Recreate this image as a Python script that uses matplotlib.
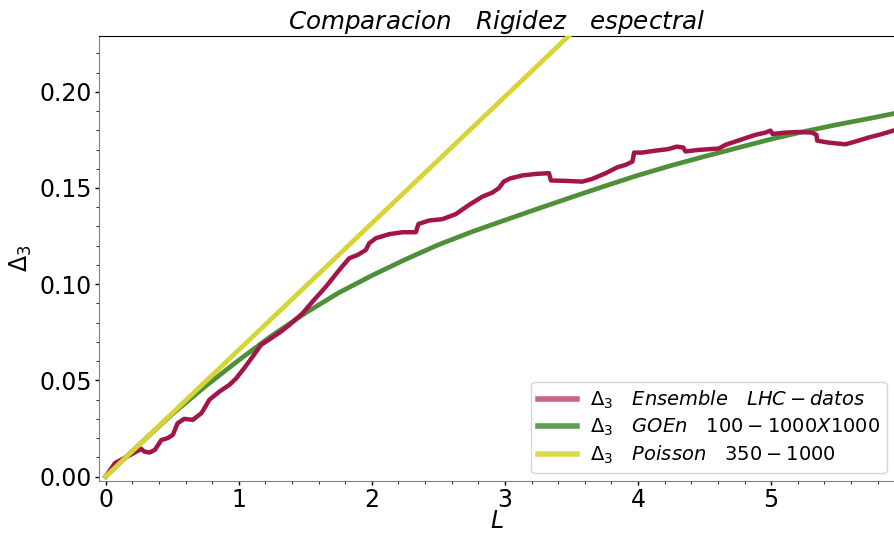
import matplotlib
matplotlib.use("Agg")
import matplotlib.pyplot as plt
from matplotlib.lines import Line2D
from matplotlib.ticker import MultipleLocator, FormatStrFormatter

# Ensemble LHC data
L_ens = [0.0, 0.07, 0.14, 0.205, 0.267, 0.29, 0.33, 0.37, 0.418, 0.467, 0.505, 0.54,
         0.59, 0.655, 0.72, 0.78, 0.855, 0.93, 0.98, 1.04, 1.105, 1.168, 1.243, 1.318,
         1.38, 1.48, 1.555, 1.656, 1.755, 1.83, 1.893, 1.955, 1.98, 2.03, 2.13, 2.23,
         2.33, 2.35, 2.43, 2.53, 2.63, 2.73, 2.83, 2.905, 2.955, 2.99, 3.04, 3.13, 3.23,
         3.33, 3.345, 3.455, 3.58, 3.655, 3.757, 3.845, 3.906, 3.957, 3.97, 4.03, 4.13,
         4.226, 4.29, 4.34, 4.355, 4.455, 4.606, 4.656, 4.78, 4.88, 4.956, 4.994, 5.01,
         5.107, 5.206, 5.306, 5.34, 5.345, 5.43, 5.557, 5.63, 5.73, 5.83, 5.95]
D_ens = [0.0, 0.007, 0.0096, 0.012, 0.0144, 0.013, 0.0125, 0.0139, 0.019, 0.020, 0.0217,
         0.0277, 0.030, 0.0295, 0.033, 0.040, 0.0442, 0.0477, 0.051, 0.0563, 0.0624,
         0.0685, 0.0719, 0.0754, 0.0788, 0.0849, 0.091, 0.0988, 0.1074, 0.1135, 0.1152,
         0.1178, 0.1213, 0.1239, 0.126, 0.127, 0.127, 0.1313, 0.1331, 0.1338, 0.1364,
         0.1412, 0.1455, 0.1476, 0.150, 0.1533, 0.155, 0.1565, 0.1573, 0.1577, 0.1539,
         0.1537, 0.1533, 0.1547, 0.1577, 0.1608, 0.162, 0.1637, 0.1684, 0.1684, 0.1694,
         0.1702, 0.1715, 0.171, 0.169, 0.1698, 0.1705, 0.1724, 0.1753, 0.1776, 0.1788,
         0.1798, 0.1781, 0.1788, 0.1791, 0.1788, 0.1776, 0.1746, 0.1736, 0.1727, 0.1741,
         0.1762, 0.1780, 0.1805]

# GOE
L_goe = [0.0, 0.25, 0.5, 0.75, 1.0, 1.25, 1.5, 1.75, 2.0, 2.25, 2.5, 2.75, 3.0, 3.25,
         3.5, 3.75, 4.0, 4.25, 4.5, 4.75, 5.0, 5.25, 5.5, 5.75, 5.95]
D_goe = [0.0, 0.0165, 0.0325, 0.0470, 0.0605, 0.0733, 0.0850, 0.0955, 0.1045, 0.1128,
         0.1205, 0.1272, 0.1333, 0.1393, 0.1452, 0.1510, 0.1566, 0.1617, 0.1664, 0.1709,
         0.1754, 0.1794, 0.1830, 0.1863, 0.1891]

# Poisson
L_poi = [0.0, 3.6]
D_poi = [0.0, 0.237]

labels = [r'$\Delta_3 \quad Ensemble \quad LHC-datos$',
          r'$\Delta_3 \quad GOEn \quad 100-1000X1000$',
          r'$\Delta_3 \quad Poisson \quad 350-1000$']

c_ens, c_goe, c_poi = '#a3154a', '#4e8f3a', '#d5d535'
c_ens_l, c_goe_l, c_poi_l = '#c8648a', '#5c9c54', '#dada4a'

fig = plt.figure(figsize=(8.95, 5.33), dpi=100)
ax = fig.add_axes([99/895, 52/533, 796/895, 445/533])

ax.plot(L_ens, D_ens, color=c_ens, lw=3.2, zorder=3)
ax.plot(L_goe, D_goe, color=c_goe, lw=3.4, zorder=2)
ax.plot(L_poi, D_poi, color=c_poi, lw=3.4, zorder=4)

ax.set_xlim(-0.05, 5.93)
ax.set_ylim(-0.0023, 0.229)
ax.xaxis.set_major_locator(MultipleLocator(1))
ax.xaxis.set_minor_locator(MultipleLocator(0.2))
ax.yaxis.set_major_locator(MultipleLocator(0.05))
ax.yaxis.set_minor_locator(MultipleLocator(0.01))
ax.yaxis.set_major_formatter(FormatStrFormatter('%.2f'))
ax.tick_params(labelsize=17, length=3, width=1, pad=2)
ax.tick_params(which='minor', length=2)

for s in ['left', 'bottom']:
    ax.spines[s].set_color('#808080')
ax.spines['right'].set_visible(False)

ax.set_title(r'$Comparacion \quad Rigidez \quad espectral$', fontsize=17.7, pad=4)
ax.set_xlabel(r'$L$', fontsize=17, labelpad=-2)
ax.set_ylabel(r'$\Delta_3$', fontsize=17, labelpad=4)

handles = [Line2D([], [], color=c_ens_l, lw=4),
           Line2D([], [], color=c_goe_l, lw=4),
           Line2D([], [], color=c_poi_l, lw=4)]
ax.legend(handles, labels, loc='lower right', fontsize=14, handlelength=2.0,
          labelspacing=0.3, borderpad=0.35, handletextpad=0.7,
          borderaxespad=0.4, framealpha=0.8)

fig.savefig('out.png', dpi=100)
